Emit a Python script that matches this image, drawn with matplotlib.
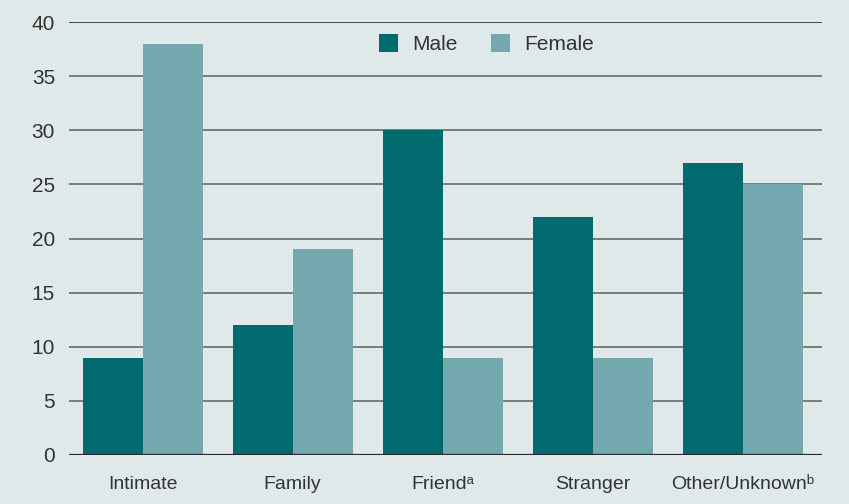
import matplotlib

matplotlib.use("Agg")
import matplotlib.pyplot as plt
import numpy as np

categories = ["Intimate", "Family", "Friend\u1d43", "Stranger", "Other/Unknown\u1d47"]
male = [9, 12, 30, 22, 27]
female = [38, 19, 9, 9, 25]
yticks = [0, 5, 10, 15, 20, 25, 30, 35, 40]

BG = "#dfe9ea"
MALE_C = "#006a6e"
FEMALE_C = "#72a8ae"
TXT = "#333333"

plt.rcParams["font.family"] = ["Liberation Sans Narrow", "Liberation Sans", "DejaVu Sans"]

fig = plt.figure(figsize=(8.49, 5.04), dpi=100, facecolor=BG)
ax = fig.add_axes([69 / 849, 1 - 455 / 504, (822 - 69) / 849, (455 - 22) / 504])
ax.set_facecolor(BG)

x = np.arange(len(categories))
w = 0.4
ax.bar(x - w / 2, male, w, color=MALE_C, label="Male", zorder=3)
ax.bar(x + w / 2, female, w, color=FEMALE_C, label="Female", zorder=3)

for v in yticks[1:-1]:
    ax.axhline(v, color="#7a7a7a", lw=1.4, zorder=1)
ax.axhline(40, color="#2a2a2a", lw=1.2, zorder=1)
ax.axhline(0, color="#2a2a2a", lw=1.6, zorder=4)

ax.set_xlim(-0.49, 4.53)
ax.set_ylim(0, 40)
ax.set_yticks(yticks)
ax.set_yticklabels([str(t) for t in yticks], fontsize=15, color=TXT)
ax.set_xticks(x)
ax.set_xticklabels(categories, fontsize=14, color=TXT)
ax.tick_params(axis="both", length=0)
ax.tick_params(axis="y", pad=10)
ax.tick_params(axis="x", pad=15)
for s in ax.spines.values():
    s.set_visible(False)

ax.legend(loc="upper center", bbox_to_anchor=(0.555, 1.015), ncol=2, frameon=False,
          fontsize=15, labelcolor=TXT, handlelength=0.9, handleheight=0.9,
          columnspacing=1.6, handletextpad=0.7)

fig.savefig("out.png", dpi=100, facecolor=BG)
